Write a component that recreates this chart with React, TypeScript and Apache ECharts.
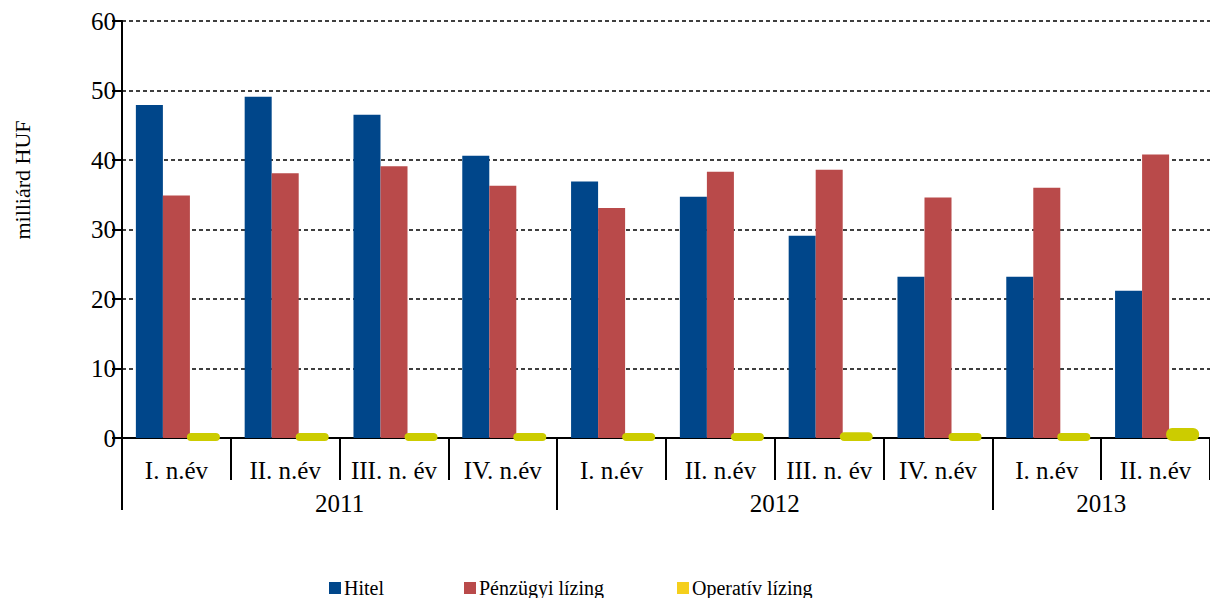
import React, { useEffect, useRef } from "react";
import * as echarts from "echarts";

const quarters = ["I. n.év", "II. n.év", "III. n. év", "IV. n.év", "I. n.év", "II. n.év", "III. n. év", "IV. n.év", "I. n.év", "II. n.év"];
const years = ["2011", "2012", "2013"];
const yearLabelPos = [2, 6, 9];
const yearBoundaries = [0, 4, 8];
const hitel = [47.9, 49.1, 46.5, 40.6, 36.9, 34.7, 29.1, 23.2, 23.2, 21.2];
const penzugyi = [34.9, 38.1, 39.1, 36.3, 33.1, 38.3, 38.6, 34.6, 36.0, 40.8];
const operativ = [0.3, 0.3, 0.3, 0.3, 0.3, 0.3, 0.4, 0.3, 0.3, 1.0];

const FONT = "'Liberation Serif', 'Times New Roman', serif";
const GAP = 0.255;

export default function App() {
  const ref = useRef<HTMLDivElement>(null);
  useEffect(() => {
    document.body.style.margin = "0";
    const chart = echarts.init(ref.current!, null, { renderer: "svg" });
    const legendBase = {
      top: 573,
      itemWidth: 12,
      itemHeight: 12,
      itemGap: 0,
      icon: "rect",
      textStyle: { fontFamily: FONT, fontSize: 20, color: "#000", padding: [0, 0, 0, -2] },
      selectedMode: false as const,
    };
    chart.setOption({
      animation: false,
      textStyle: { fontFamily: FONT },
      grid: { left: 122, right: 0, top: 21, bottom: 160, containLabel: false },
      legend: [
        { ...legendBase, left: 324, data: [{ name: "Hitel" }] },
        { ...legendBase, left: 459, data: [{ name: "Pénzügyi lízing" }] },
        { ...legendBase, left: 672, data: [{ name: "Operatív lízing", itemStyle: { color: "#F5CF1C" } }] },
      ],
      graphic: [
        {
          type: "text",
          x: 22,
          y: 180,
          rotation: Math.PI / 2,
          style: { text: "milliárd HUF", fontFamily: FONT, fontSize: 22, fill: "#000", align: "center", verticalAlign: "middle" },
        },
      ],
      xAxis: [
        {
          type: "category",
          data: quarters,
          position: "bottom",
          axisLine: { show: true, lineStyle: { color: "#000", width: 2 } },
          axisTick: { show: true, length: 42, interval: 0, lineStyle: { color: "#000", width: 2 } },
          axisLabel: { interval: 0, fontFamily: FONT, fontSize: 25, color: "#000", margin: 20 },
          splitLine: { show: false },
        },
        {
          type: "value",
          min: 0,
          max: 10,
          position: "bottom",
          axisLine: { show: false },
          axisTick: { show: true, customValues: yearBoundaries, length: 72, lineStyle: { color: "#000", width: 2 } },
          axisLabel: {
            customValues: yearLabelPos,
            formatter: (v: number) => years[yearLabelPos.indexOf(v)] ?? "",
            fontFamily: FONT,
            fontSize: 25,
            color: "#000",
            margin: 53,
          },
          splitLine: { show: false },
        },
      ],
      yAxis: {
        type: "value",
        min: 0,
        max: 60,
        interval: 10,
        axisLine: { show: true, lineStyle: { color: "#000", width: 2 } },
        axisTick: { show: true, length: 10, lineStyle: { color: "#000", width: 2 } },
        axisLabel: { fontFamily: FONT, fontSize: 25, color: "#000", margin: 6 },
        splitLine: { show: true, lineStyle: { color: "#000", width: 1.5, type: [4, 3] } },
      },
      series: [
        {
          name: "Hitel",
          type: "bar",
          data: hitel,
          barGap: "0%",
          barCategoryGap: "25.5%",
          itemStyle: { color: "#00468A" },
        },
        {
          name: "Pénzügyi lízing",
          type: "bar",
          data: penzugyi,
          barGap: "0%",
          barCategoryGap: "25.5%",
          itemStyle: { color: "#B94A4A" },
        },
        {
          name: "slot",
          type: "bar",
          data: operativ.map(() => null),
          barGap: "0%",
          barCategoryGap: "25.5%",
          silent: true,
        },
        {
          name: "Operatív lízing",
          type: "custom",
          data: operativ.map((v, i) => [i, v]),
          encode: { x: 0, y: 1 },
          z: 5,
          itemStyle: { color: "#CCCC00" },
          renderItem: (params: any, api: any) => {
            const idx = api.value(0);
            const val = api.value(1);
            const top = api.coord([idx, val]);
            const base = api.coord([idx, 0]);
            const catW = api.size([1, 0])[0];
            const bw = (catW * (1 - GAP)) / 3;
            return {
              type: "rect",
              shape: { x: top[0] + bw / 2, y: top[1], width: bw, height: base[1] - top[1], r: 3 },
              style: { fill: "#CCCC00", stroke: "#CCCC00", lineWidth: 6, lineJoin: "round" },
            };
          },
        },
      ],
    });
    return () => chart.dispose();
  }, []);
  return <div ref={ref} style={{ width: 1210, height: 598 }} />;
}
